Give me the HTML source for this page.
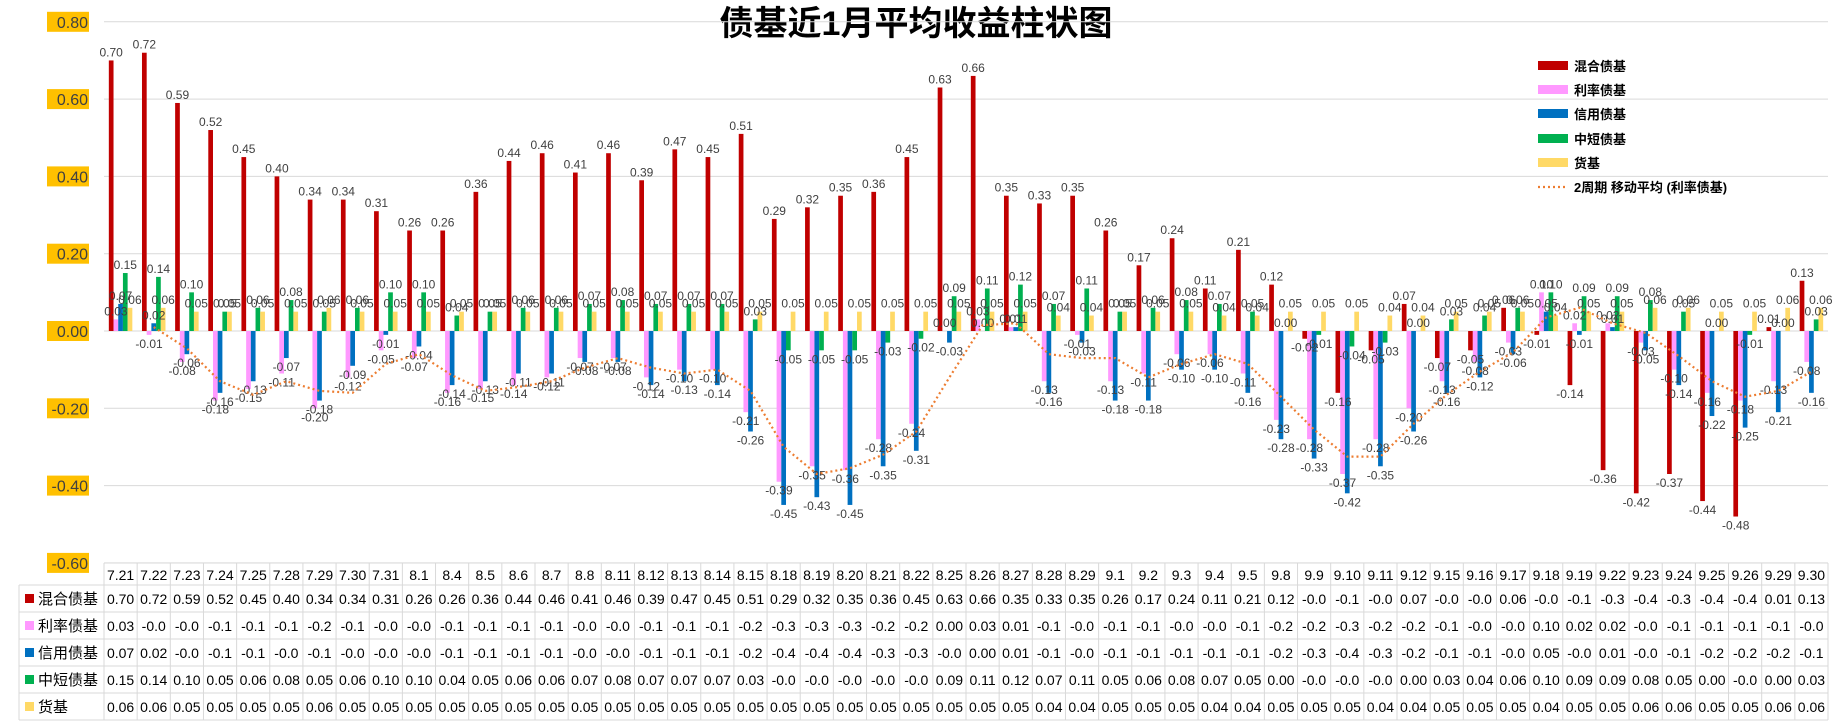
<!DOCTYPE html>
<html><head><meta charset="utf-8"><style>
html,body{margin:0;padding:0;background:#fff;}
svg{display:block;font-family:"Liberation Sans","Noto Sans CJK SC",sans-serif;}
</style></head><body>
<svg id="chart" width="1841" height="726" viewBox="0 0 1841 726" xmlns="http://www.w3.org/2000/svg">
<text x="916" y="35" text-anchor="middle" font-size="34" font-weight="bold" fill="#000">债基近1月平均收益柱状图</text>
<g id="grid"></g><g id="bars"></g><g id="labels"></g><g id="ma"></g><g id="yaxis"></g><g id="legend"></g><g id="table"></g>
</svg>
<script>
const categories=["7.21","7.22","7.23","7.24","7.25","7.28","7.29","7.30","7.31","8.1","8.4","8.5","8.6","8.7","8.8","8.11","8.12","8.13","8.14","8.15","8.18","8.19","8.20","8.21","8.22","8.25","8.26","8.27","8.28","8.29","9.1","9.2","9.3","9.4","9.5","9.8","9.9","9.10","9.11","9.12","9.15","9.16","9.17","9.18","9.19","9.22","9.23","9.24","9.25","9.26","9.29","9.30"];
const mixedValues=[0.70,0.72,0.59,0.52,0.45,0.40,0.34,0.34,0.31,0.26,0.26,0.36,0.44,0.46,0.41,0.46,0.39,0.47,0.45,0.51,0.29,0.32,0.35,0.36,0.45,0.63,0.66,0.35,0.33,0.35,0.26,0.17,0.24,0.11,0.21,0.12,-0.02,-0.16,-0.05,0.07,-0.07,-0.05,0.06,-0.01,-0.14,-0.36,-0.42,-0.37,-0.44,-0.48,0.01,0.13];
const rateValues=[0.03,-0.01,-0.08,-0.18,-0.15,-0.11,-0.20,-0.12,-0.05,-0.07,-0.16,-0.15,-0.14,-0.12,-0.07,-0.07,-0.12,-0.10,-0.10,-0.21,-0.39,-0.35,-0.36,-0.28,-0.24,0.00,0.03,0.01,-0.13,-0.01,-0.13,-0.11,-0.06,-0.06,-0.11,-0.23,-0.28,-0.37,-0.28,-0.20,-0.13,-0.08,-0.03,0.10,0.02,0.02,-0.03,-0.10,-0.16,-0.18,-0.13,-0.08];
const creditValues=[0.07,0.02,-0.06,-0.16,-0.13,-0.07,-0.18,-0.09,-0.01,-0.04,-0.14,-0.13,-0.11,-0.11,-0.08,-0.08,-0.14,-0.13,-0.14,-0.26,-0.45,-0.43,-0.45,-0.35,-0.31,-0.03,0.00,0.01,-0.16,-0.03,-0.18,-0.18,-0.10,-0.10,-0.16,-0.28,-0.33,-0.42,-0.35,-0.26,-0.16,-0.12,-0.06,0.05,-0.01,0.01,-0.05,-0.14,-0.22,-0.25,-0.21,-0.16];
const shortValues=[0.15,0.14,0.10,0.05,0.06,0.08,0.05,0.06,0.10,0.10,0.04,0.05,0.06,0.06,0.07,0.08,0.07,0.07,0.07,0.03,-0.05,-0.05,-0.05,-0.03,-0.02,0.09,0.11,0.12,0.07,0.11,0.05,0.06,0.08,0.07,0.05,0.00,-0.01,-0.04,-0.03,0.00,0.03,0.04,0.06,0.10,0.09,0.09,0.08,0.05,0.00,-0.01,0.00,0.03];
const moneyValues=[0.06,0.06,0.05,0.05,0.05,0.05,0.06,0.05,0.05,0.05,0.05,0.05,0.05,0.05,0.05,0.05,0.05,0.05,0.05,0.05,0.05,0.05,0.05,0.05,0.05,0.05,0.05,0.05,0.04,0.04,0.05,0.05,0.05,0.04,0.04,0.05,0.05,0.05,0.04,0.04,0.05,0.05,0.05,0.04,0.05,0.05,0.06,0.06,0.05,0.05,0.06,0.06];
const seriesNames=["混合债基","利率债基","信用债基","中短债基","货基"];
const yTicks=[0.8,0.6,0.4,0.2,0,-0.2,-0.4,-0.6];

const NS="http://www.w3.org/2000/svg";
const colors=["#C00000","#FF99FF","#0070C0","#00B050","#FFD966"];
const series=[mixedValues,rateValues,creditValues,shortValues,moneyValues];
const plotL=104,plotR=1828,n=categories.length,cw=(plotR-plotL)/n;
const yZero=331,unit=386.5;
function yScale(v){return yZero-v*unit;}
function xCat(i){return plotL+i*cw;}
function mk(tag,attrs,parent,txt){const e=document.createElementNS(NS,tag);for(const k in attrs)e.setAttribute(k,attrs[k]);if(txt!==undefined)e.textContent=txt;parent.appendChild(e);return e;}
const G=id=>document.getElementById(id);

// grid + y axis
yTicks.forEach(t=>{
  const y=yScale(t);
  const gl=mk('line',{x1:plotL,x2:plotR,y1:y,y2:y,stroke:'#d9d9d9','stroke-width':1},G('grid'));
  
  
  const lab=t.toFixed(2);
  const bg=mk('rect',{x:47,y:y-10,width:42,height:20,fill:'#FFC000'},G('yaxis'));
  
  
  const tx=mk('text',{x:88,y:y+6,'text-anchor':'end','font-size':16,fill:'#404040'},G('yaxis'),lab);
  
  
});

// bars + labels
const bw=4.7,off=(cw-5*bw)/2;
series.forEach((vals,s)=>{
  vals.forEach((v,i)=>{
    const x=xCat(i)+off+s*bw;
    const y0=yScale(0),y1=yScale(v);
    const r=mk('rect',{x:x,y:Math.min(y0,y1),width:bw,height:Math.max(Math.abs(y1-y0),0.01),fill:colors[s]},G('bars'));
    
    
    const ly=v>=0?y1-4:y1+13;
    const t=mk('text',{x:x+bw/2,y:ly,'text-anchor':'middle','font-size':12,fill:'#404040'},G('labels'),v.toFixed(2));
    
    
  });
});

// moving average of rate series (2 period)
let pts=[];
for(let i=1;i<n;i++){const m=(rateValues[i]+rateValues[i-1])/2;pts.push((xCat(i)+cw/2).toFixed(1)+','+yScale(m).toFixed(1));}
const ma=mk('polyline',{points:pts.join(' '),fill:'none',stroke:'#ED7D31','stroke-width':2.2,'stroke-dasharray':'2 3'},G('ma'));



// legend
const legY=[66,90,114,139,163];
seriesNames.forEach((nm,s)=>{
  const sw=mk('rect',{x:1538,y:legY[s]-5,width:30,height:9,fill:colors[s]},G('legend'));
  
  
  const t=mk('text',{x:1574,y:legY[s]+5,'font-size':13,'font-weight':'bold',fill:'#000'},G('legend'),nm);
  
  
});
const ml=mk('line',{x1:1538,x2:1568,y1:187,y2:187,stroke:'#ED7D31','stroke-width':2.2,'stroke-dasharray':'2 3'},G('legend'));


const mt=mk('text',{x:1574,y:192,'font-size':13,'font-weight':'bold',fill:'#000'},G('legend'),'2周期 移动平均 (利率债基)');



// data table
const tTop=563,hdrB=585,rowH=27,tBot=hdrB+rowH*5,labL=19;
const tb=G('table');
function ln(x1,y1,x2,y2){const l=mk('line',{x1:x1,y1:y1,x2:x2,y2:y2,stroke:'#d9d9d9','stroke-width':1},tb);}
ln(plotL,tTop,plotR,tTop);
ln(labL,hdrB,plotR,hdrB);
for(let r=1;r<=5;r++)ln(labL,hdrB+r*rowH,plotR,hdrB+r*rowH);
ln(labL,hdrB,labL,tBot);
for(let i=0;i<=n;i++)ln(xCat(i),tTop,xCat(i),tBot);
categories.forEach((c,i)=>{
  const t=mk('text',{x:xCat(i)+cw/2,y:tTop+17,'text-anchor':'middle','font-size':14,fill:'#000'},tb,c);
  
  
});
series.forEach((vals,s)=>{
  const yb=hdrB+s*rowH;
  const sq=mk('rect',{x:25,y:yb+9,width:9,height:9,fill:colors[s]},tb);
  
  
  const nt=mk('text',{x:38,y:yb+19,'font-size':15,fill:'#000'},tb,seriesNames[s]);
  
  
  vals.forEach((v,i)=>{
    const str=v.toFixed(2).slice(0,4);
    const t=mk('text',{x:xCat(i)+cw/2,y:yb+19,'text-anchor':'middle','font-size':14,fill:'#000'},tb,str);
    
    
  });
});
</script>
</body></html>
